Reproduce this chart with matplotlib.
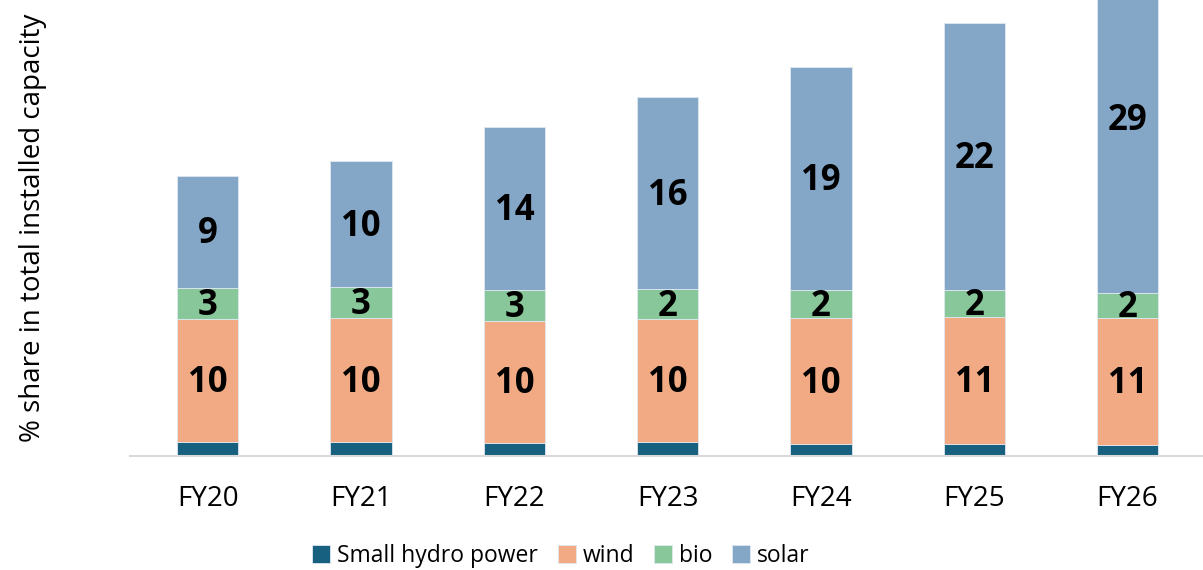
import matplotlib.pyplot as plt
import numpy as np

years = ["FY20", "FY21", "FY22", "FY23", "FY24", "FY25", "FY26"]
hydro = [1.15, 1.15, 1.07, 1.1, 0.98, 0.95, 0.88]
wind = [10.2, 10.3, 10.17, 10.28, 10.45, 10.58, 10.6]
bio = [2.65, 2.6, 2.56, 2.47, 2.36, 2.25, 2.1]
solar = [9.3, 10.5, 13.56, 16.05, 18.56, 22.3, 29.0]

series = [
    ("Small hydro power", hydro, "#17607f", False),
    ("wind", wind, "#f2aa84", True),
    ("bio", bio, "#87c799", True),
    ("solar", solar, "#84a7c8", True),
]

plt.rcParams["font.family"] = ["Open Sans", "DejaVu Sans"]

fig = plt.figure(figsize=(12.03, 5.7), dpi=100)
ax = fig.add_axes([130 / 1203, 114.5 / 570, 1073 / 1203, 455.5 / 570])

x = np.arange(len(years))
bottom = np.zeros(len(years))
for name, vals, color, labelled in series:
    vals = np.array(vals)
    ax.bar(x, vals, width=0.4, bottom=bottom, color=color, label=name,
           edgecolor="#dfe8f0", linewidth=0.6)
    if labelled:
        for xi, b, v in zip(x, bottom, vals):
            ax.annotate(f"{v:.0f}", (xi, b + v / 2), xytext=(0, -2),
                        textcoords="offset points", ha="center", va="center",
                        fontsize=25, fontweight="bold", color="black")
    bottom += vals

ax.set_xlim(-0.5075, 6.492)
ax.set_ylim(0, 455.5 / 12)
ax.set_xticks(x)
ax.set_xticklabels(years, fontsize=20)
ax.tick_params(axis="x", length=0, pad=21)
ax.set_yticks([])
for side in ["top", "right", "left"]:
    ax.spines[side].set_visible(False)
ax.spines["bottom"].set_color("#d9d9d9")
ax.spines["bottom"].set_linewidth(1.5)

fig.text(33 / 1203, 1 - 227.5 / 570, "% share in total installed capacity",
         rotation=90, ha="center", va="center", fontsize=20)

fig.legend(loc="center", bbox_to_anchor=(561 / 1203, 1 - 556 / 570), ncol=4,
           frameon=False, fontsize=16.5, handlelength=0.8, handleheight=0.85,
           handletextpad=0.3, columnspacing=0.85)

fig.savefig("out.png", dpi=100)
